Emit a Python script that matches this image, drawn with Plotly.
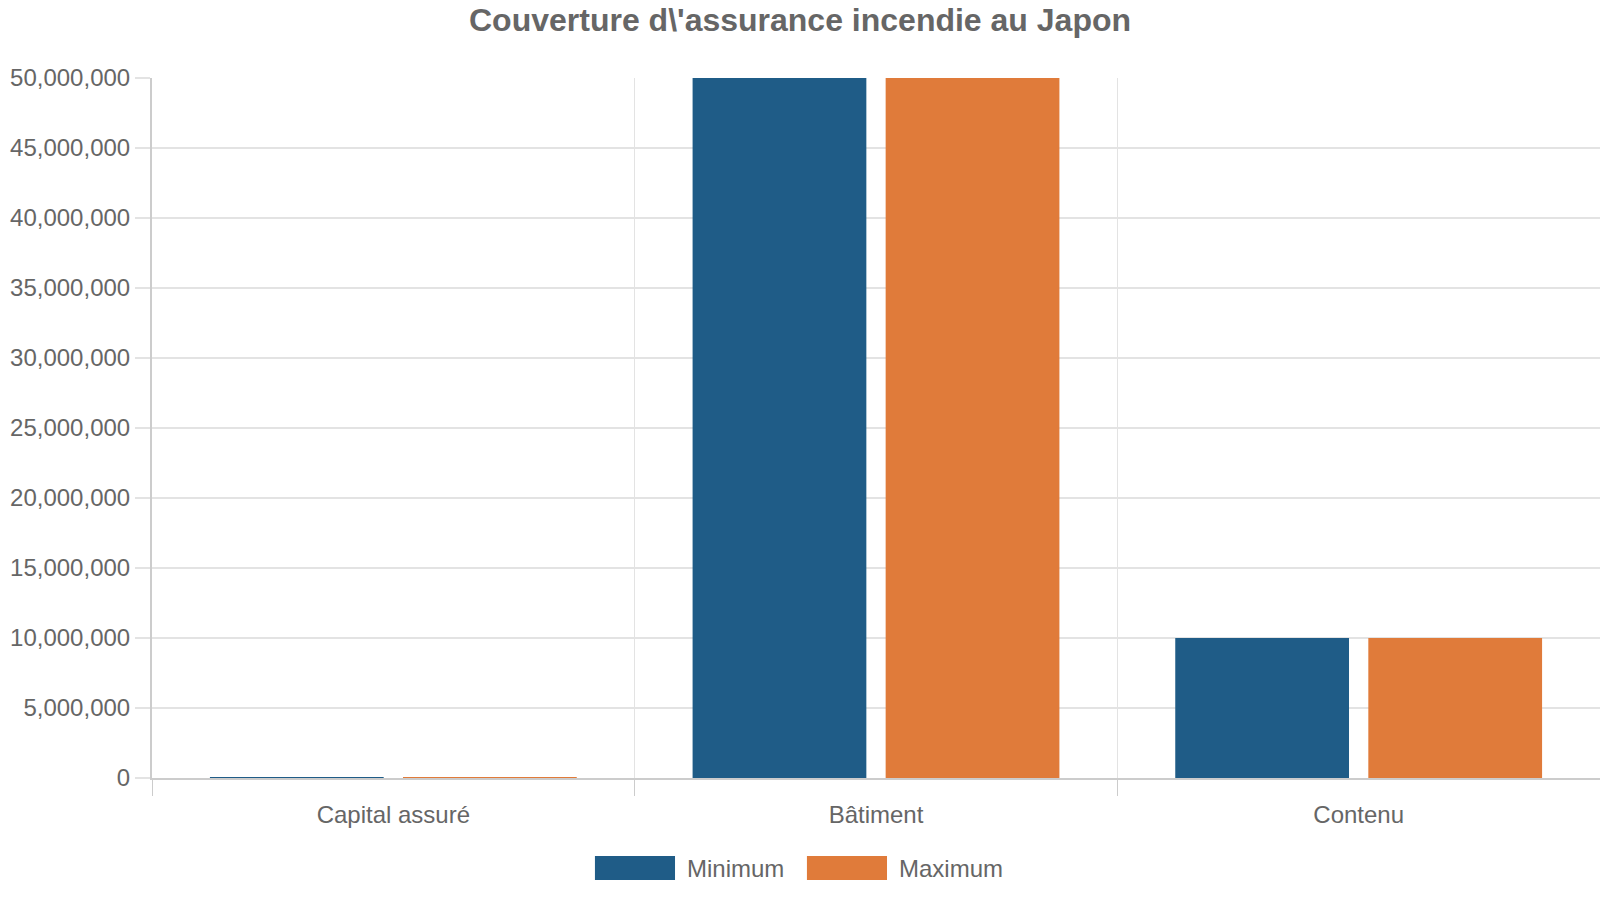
import plotly.graph_objects as go

# Data
categories = ["Capital assuré", "Bâtiment", "Contenu"]
minimum = [50000, 50000000, 10000000]
maximum = [50000, 50000000, 10000000]
series_names = ["Minimum", "Maximum"]
series_colors = ["#1f5c87", "#e07b3a"]

y_ticks = list(range(0, 50000001, 5000000))

font_family = "Liberation Sans, Arial, sans-serif"
text_color = "#666666"
grid_color = "#e3e3e3"
axis_color = "#cccccc"

fig = go.Figure()

for name, values, color in zip(series_names, [minimum, maximum], series_colors):
    fig.add_trace(go.Bar(
        x=categories,
        y=values,
        name=name,
        marker=dict(color=color, line=dict(width=0)),
        showlegend=False,
    ))

# Legend drawn by hand to get the wide swatches of the original
legend_x = [0.3059, 0.4523]
swatch_w = 0.0553
for i, (name, color) in enumerate(zip(series_names, series_colors)):
    fig.add_shape(type="rect", xref="paper", yref="paper",
                  x0=legend_x[i], x1=legend_x[i] + swatch_w,
                  y0=-0.1457, y1=-0.1114,
                  fillcolor=color, line=dict(width=0))
    fig.add_annotation(text=name, xref="paper", yref="paper",
                       x=legend_x[i] + swatch_w + 0.007, y=-0.1286,
                       xanchor="left", yanchor="middle", showarrow=False,
                       font=dict(size=24, color=text_color, family=font_family))

fig.update_layout(
    width=1600, height=900,
    paper_bgcolor="white", plot_bgcolor="white",
    font=dict(family=font_family, size=24, color=text_color),
    title=dict(text="<b>Couverture d\\'assurance incendie au Japon</b>",
               x=0.5, xanchor="center", y=0.978, yanchor="middle",
               font=dict(size=32, color=text_color, family=font_family)),
    margin=dict(l=152, r=0, t=78, b=122),
    barmode="group", bargap=0.2, bargroupgap=0.1,
    showlegend=False,
)

fig.update_xaxes(
    type="category", tickson="boundaries",
    showgrid=True, gridcolor=grid_color, gridwidth=1,
    showline=True, linecolor=axis_color, linewidth=2,
    ticks="outside", ticklen=16, tickcolor=axis_color, tickwidth=1,
    tickfont=dict(size=24, color=text_color),
    ticklabelstandoff=14,
)

fig.update_yaxes(
    range=[0, 50000000], tickvals=y_ticks, tickformat=",",
    showgrid=True, gridcolor=grid_color, gridwidth=2,
    showline=True, linecolor=axis_color, linewidth=2,
    ticks="outside", ticklen=15, tickcolor=grid_color, tickwidth=2,
    tickfont=dict(size=24, color=text_color),
    ticklabelstandoff=0, zeroline=False,
)

# drop the default page margin so the figure sits at the window corner
fig.write_html("out.html", config={"displayModeBar": False},
               post_script="document.body.style.margin='0';")
